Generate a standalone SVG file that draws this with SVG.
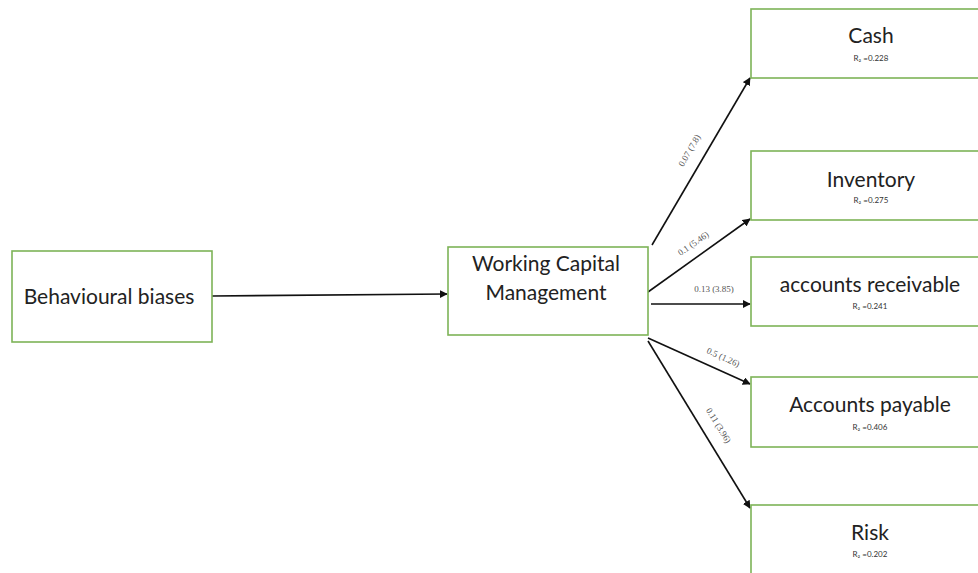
<svg xmlns="http://www.w3.org/2000/svg" width="978" height="573" viewBox="0 0 978 573">
<defs>
<style>
.box{fill:#fff;stroke:#7db357;stroke-width:1.6}
.t{font-family:Lato,"Liberation Sans",sans-serif;font-size:21px;fill:#222;text-anchor:middle}
.s{font-family:Lato,"Liberation Sans",sans-serif;font-size:8px;fill:#333;text-anchor:middle}
.e{stroke:#111;stroke-width:1.6;fill:none;marker-end:url(#ah)}
.l{font-family:"Liberation Serif",serif;font-size:9px;fill:#555;text-anchor:middle}
</style>
<marker id="ah" viewBox="0 0 10 10" refX="9" refY="5" markerWidth="5" markerHeight="5" orient="auto" markerUnits="strokeWidth">
<path d="M0,0 L10,5 L0,10 z" fill="#111"/>
</marker>
</defs>
<rect width="978" height="573" fill="#fff"/>
<g id="connectors">
<line class="e" x1="212" y1="296" x2="447" y2="294"/>
<line class="e" x1="652" y1="245" x2="750" y2="78"/>
<line class="e" x1="648" y1="292" x2="750" y2="219"/>
<line class="e" x1="651" y1="304" x2="750" y2="304"/>
<line class="e" x1="648" y1="338" x2="750" y2="384"/>
<line class="e" x1="648" y1="341" x2="750" y2="508"/>
<text class="l" transform="translate(692,152) rotate(-60)">0.07 (7.8)</text>
<text class="l" transform="translate(695,246) rotate(-35)">0.1 (5.46)</text>
<text class="l" x="714" y="292">0.13 (3.85)</text>
<text class="l" transform="translate(722,360) rotate(24.5)">0.5 (1.26)</text>
<text class="l" transform="translate(716,427) rotate(58.5)">0.11 (3.96)</text>
</g>
<g id="behavioural">
<rect class="box" x="12" y="251" width="200" height="91"/>
<text class="t" x="109" y="304">Behavioural biases</text>
</g>
<g id="wcm">
<rect class="box" x="448" y="247" width="200" height="88"/>
<text class="t" x="546" y="271">Working Capital</text>
<text class="t" x="546" y="300">Management</text>
</g>
<g id="cash">
<rect class="box" x="751" y="9" width="240" height="69"/>
<text class="t" x="871" y="43">Cash</text>
<text class="s" x="871" y="61">R₂ =0.228</text>
</g>
<g id="inventory">
<rect class="box" x="751" y="151" width="240" height="69"/>
<text class="t" x="871" y="187">Inventory</text>
<text class="s" x="871" y="203">R₂ =0.275</text>
</g>
<g id="receivable">
<rect class="box" x="751" y="257" width="240" height="69"/>
<text class="t" x="870" y="292">accounts receivable</text>
<text class="s" x="870" y="309">R₂ =0.241</text>
</g>
<g id="payable">
<rect class="box" x="751" y="377" width="240" height="70"/>
<text class="t" x="870" y="412">Accounts payable</text>
<text class="s" x="870" y="430">R₂ =0.406</text>
</g>
<g id="risk">
<rect class="box" x="751" y="505" width="240" height="80"/>
<text class="t" x="870" y="540">Risk</text>
<text class="s" x="870" y="557">R₂ =0.202</text>
</g>
</svg>
